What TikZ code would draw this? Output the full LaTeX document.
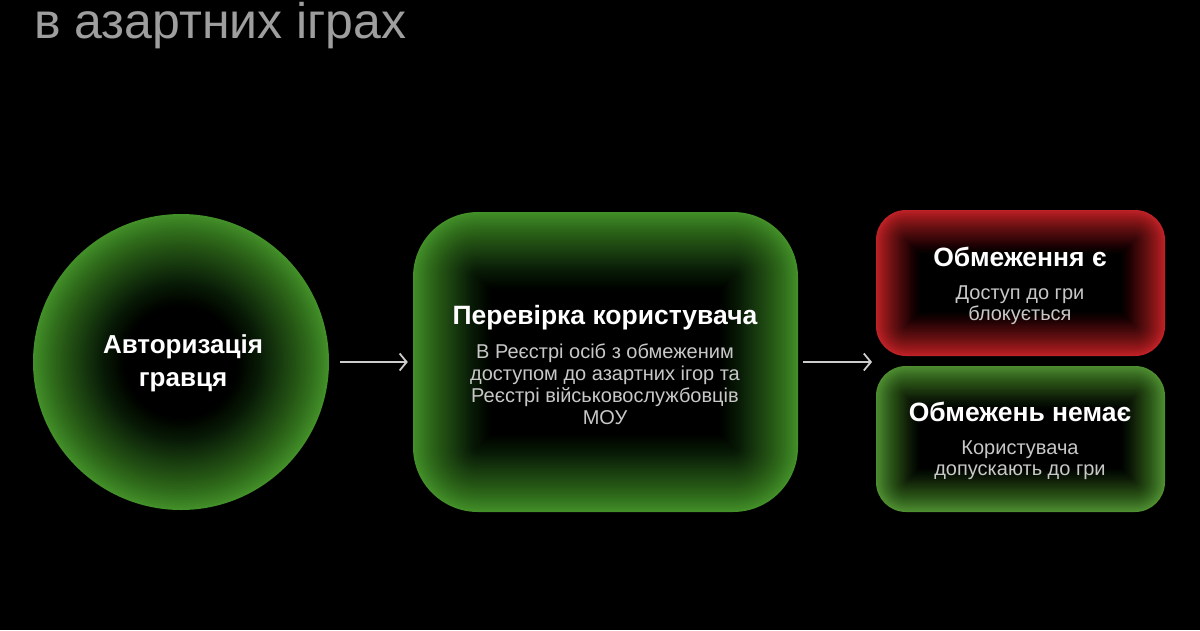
\documentclass[tikz,border=0pt]{standalone}
\usepackage{fontspec}
\setmainfont{Liberation Sans}
\usetikzlibrary{arrows.meta}
\definecolor{gedge}{RGB}{66,142,40}
\definecolor{gedgeb}{RGB}{78,142,48}
\definecolor{redge}{RGB}{190,34,38}
\definecolor{titlegray}{RGB}{158,158,158}
\definecolor{bodygray}{RGB}{200,200,200}
\definecolor{arrowgray}{RGB}{205,205,205}
\newcommand\glowrect[6]{%
 \foreach \i in {1,...,36}{%
   \pgfmathsetmacro\tA{(\i-1)/36}%
   \pgfmathsetmacro\tB{\i/36}%
   \pgfmathsetmacro\DA{\tA^0.9}%
   \pgfmathsetmacro\DB{\tB^0.9}%
   \pgfmathsetmacro\al{(\DB-\DA)/(1-\DA)}%
   \pgfmathsetmacro\dd{#6*\i/36}%
   \pgfmathsetmacro\rr{max(#5-\dd,1)}%
   \fill[black,fill opacity=\al,rounded corners=\rr pt] (#1+\dd,#2+\dd) rectangle (#3-\dd,#4-\dd);
 }}
\newcommand\glowcirc[4]{%
 \foreach \i in {1,...,36}{%
   \pgfmathsetmacro\tA{(\i-1)/36}%
   \pgfmathsetmacro\tB{\i/36}%
   \pgfmathsetmacro\DA{\tA^0.9}%
   \pgfmathsetmacro\DB{\tB^0.9}%
   \pgfmathsetmacro\al{(\DB-\DA)/(1-\DA)}%
   \pgfmathsetmacro\dd{#4*\i/36}%
   \fill[black,fill opacity=\al] (#1,#2) circle ({#3-\dd});
 }}
\tikzset{
  flow/.style={draw=arrowgray, line width=1.8pt, -{Straight Barb[length=7pt,width=17pt]}},
  headtext/.style={text=white, font=\bfseries\fontsize{26.5}{33}\selectfont, align=center, inner sep=0},
  bodytext/.style={text=bodygray, font=\fontsize{20}{22}\selectfont, align=center, inner sep=0},
  smallbody/.style={text=bodygray, font=\fontsize{20}{20.5}\selectfont, align=center, inner sep=0},
}
\begin{document}
\begin{tikzpicture}[x=1pt,y=-1pt]
\fill[black] (0,0) rectangle (1200,630);
\useasboundingbox (0,0) rectangle (1200,630);
% title
\node[anchor=base west, inner sep=0, text=titlegray, font=\fontsize{50}{56}\selectfont] (title) at (34,38) {в азартних іграх};
% shapes
\node[circle, minimum size=296pt, fill=gedge, inner sep=0] (auth) at (181,362) {};
\glowcirc{181}{362}{148}{92}
\node[rectangle, rounded corners=65pt, minimum width=385pt, minimum height=300pt, fill=gedge, inner sep=0] (check) at (605.5,362) {};
\glowrect{413}{212}{798}{512}{65}{78}
\node[rectangle, rounded corners=30pt, minimum width=289pt, minimum height=146pt, fill=redge, inner sep=0] (yes) at (1020.5,283) {};
\glowrect{876}{210}{1165}{356}{30}{44}
\node[rectangle, rounded corners=30pt, minimum width=289pt, minimum height=146pt, fill=gedgeb, inner sep=0] (no) at (1020.5,439) {};
\glowrect{876}{366}{1165}{512}{30}{44}
% texts
\node[headtext, font=\bfseries\fontsize{26}{33}\selectfont] (authtxt) at (183,363) {Авторизація\\гравця};
\node[headtext, anchor=base] (checkhead) at (605,324) {Перевірка користувача};
\node[bodytext, anchor=base] (checkbody) at (605,424) {В Реєстрі осіб з обмеженим\\доступом до азартних ігор та\\Реєстрі військовослужбовців\\МОУ};
\node[headtext, anchor=base] (yeshead) at (1020,266) {Обмеження є};
\node[smallbody, anchor=base] (yesbody) at (1020,320) {Доступ до гри\\блокується};
\node[headtext, anchor=base] (nohead) at (1020,421) {Обмежень немає};
\node[smallbody, anchor=base] (nobody) at (1020,475) {Користувача\\допускають до гри};
% connectors
\coordinate (fork) at (876,362);
\draw[flow, shorten <=11pt, shorten >=5pt] (auth) -- (check);
\draw[flow, shorten <=5pt, shorten >=4pt] (check) -- (fork);
\end{tikzpicture}
\end{document}
